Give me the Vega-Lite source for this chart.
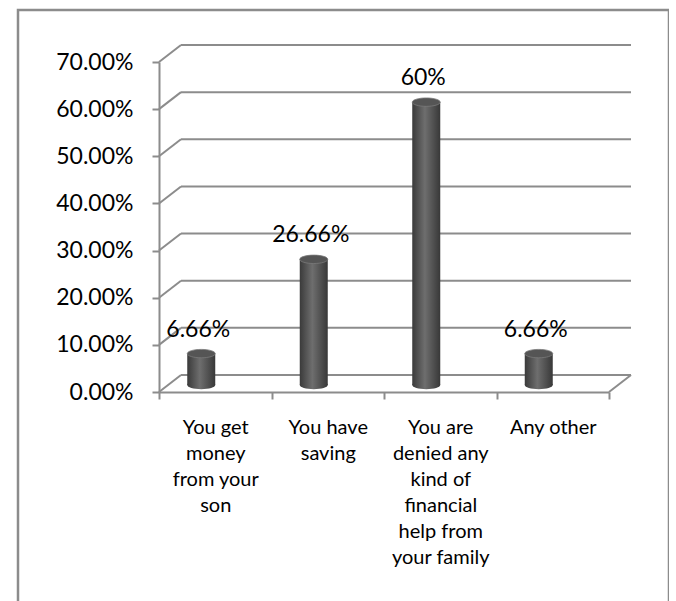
{
  "$schema": "https://vega.github.io/schema/vega-lite/v6.json",
  "width": 651,
  "height": 600,
  "autosize": {"type": "none"},
  "padding": {"left": 18, "top": 10, "right": 0, "bottom": 0},
  "background": "white",
  "config": {"view": {"stroke": "#8c8c8c", "strokeWidth": 2.5}, "font": "Lato"},
  "datasets": {
    "answers": [
      {"answer": "You get money from your son", "pct": 6.66, "label": "6.66%"},
      {"answer": "You have saving", "pct": 26.66, "label": "26.66%"},
      {"answer": "You are denied any kind of financial help from your family", "pct": 60, "label": "60%"},
      {"answer": "Any other", "pct": 6.66, "label": "6.66%"}
    ],
    "ticks": [{"v": 0}, {"v": 10}, {"v": 20}, {"v": 30}, {"v": 40}, {"v": 50}, {"v": 60}, {"v": 70}]
  },
  "layer": [
    {
      "data": {"name": "ticks"},
      "layer": [
        {
          "mark": {"type": "rule", "color": "#8c8c8c", "strokeWidth": 2},
          "encoding": {
            "x": {"datum": 0, "type": "quantitative", "scale": {"domain": [0, 1], "range": [163, 613]}, "axis": null},
            "x2": {"datum": 1},
            "y": {"field": "v", "type": "quantitative", "scale": {"domain": [0, 70], "range": [365, 35]}, "axis": null}
          }
        },
        {
          "mark": {"type": "rule", "color": "#8c8c8c", "strokeWidth": 2, "x2Offset": -22, "y2Offset": 17},
          "encoding": {
            "x": {"datum": 0, "type": "quantitative", "scale": {"domain": [0, 1], "range": [163, 613]}, "axis": null},
            "x2": {"datum": 0},
            "y": {"field": "v", "type": "quantitative", "scale": {"domain": [0, 70], "range": [365, 35]}, "axis": null},
            "y2": {"field": "v"}
          }
        },
        {
          "data": {"values": [{"v": 0}]},
          "mark": {"type": "rule", "color": "#8c8c8c", "strokeWidth": 2, "x2Offset": -22, "y2Offset": 17},
          "encoding": {
            "x": {"datum": 1, "type": "quantitative", "scale": {"domain": [0, 1], "range": [163, 613]}, "axis": null},
            "x2": {"datum": 1},
            "y": {"field": "v", "type": "quantitative", "scale": {"domain": [0, 70], "range": [365, 35]}, "axis": null},
            "y2": {"field": "v"}
          }
        }
      ]
    },
    {
      "data": {"name": "answers"},
      "encoding": {
        "x": {
          "field": "answer",
          "type": "nominal",
          "sort": null,
          "scale": {"range": [141, 591], "paddingInner": 0, "paddingOuter": 0},
          "axis": {
            "title": null,
            "offset": -218,
            "tickBand": "extent",
            "tickSize": 7,
            "tickColor": "#8c8c8c",
            "tickWidth": 2,
            "domainColor": "#8c8c8c",
            "domainWidth": 2,
            "labelAngle": 0,
            "labelFontSize": 20,
            "labelLineHeight": 26,
            "labelColor": "black",
            "labelPadding": 18,
            "labelLimit": 300,
            "labelExpr": "datum.value == 'You get money from your son' ? ['You get','money','from your','son'] : datum.value == 'You have saving' ? ['You have','saving'] : datum.value == 'You are denied any kind of financial help from your family' ? ['You are','denied any','kind of','financial','help from','your family'] : datum.value"
          }
        }
      },
      "layer": [
        {
          "mark": {
            "type": "bar",
            "width": 28,
            "xOffset": -14,
            "yOffset": -7,
            "y2Offset": -7,
            "fill": {"gradient": "linear", "x1": 0, "x2": 1, "y1": 0, "y2": 0, "stops": [{"offset": 0, "color": "#3a3a3a"}, {"offset": 0.45, "color": "#6e6e6e"}, {"offset": 1, "color": "#383838"}]}
          },
          "encoding": {
            "y": {
              "field": "pct",
              "type": "quantitative",
              "scale": {"domain": [0, 70], "range": [382, 52]},
              "axis": {
                "title": null,
                "values": [0, 10, 20, 30, 40, 50, 60, 70],
                "labelExpr": "format(datum.value, '.2f') + '%'",
                "offset": -141,
                "grid": false,
                "domainColor": "#8c8c8c",
                "domainWidth": 2,
                "tickColor": "#8c8c8c",
                "tickWidth": 2,
                "tickSize": 7,
                "labelFontSize": 23,
                "labelColor": "black",
                "labelPadding": 19
              }
            },
            "y2": {"datum": 0}
          }
        },
        {
          "mark": {
            "type": "point",
            "shape": "M -1 0 A 1 0.3 0 1 0 1 0 A 1 0.3 0 1 0 -1 0 Z",
            "size": 784,
            "filled": true,
            "opacity": 1,
            "xOffset": -14,
            "yOffset": -7,
            "strokeWidth": 0,
            "fill": {"gradient": "linear", "x1": 0, "x2": 1, "y1": 0, "y2": 0, "stops": [{"offset": 0, "color": "#3a3a3a"}, {"offset": 0.45, "color": "#6e6e6e"}, {"offset": 1, "color": "#383838"}]}
          },
          "encoding": {
            "y": {"datum": 0, "type": "quantitative", "scale": {"domain": [0, 70], "range": [382, 52]}}
          }
        },
        {
          "mark": {
            "type": "point",
            "shape": "M -1 0 A 1 0.3 0 1 0 1 0 A 1 0.3 0 1 0 -1 0 Z",
            "size": 784,
            "filled": true,
            "opacity": 1,
            "xOffset": -14,
            "yOffset": -7,
            "fill": "#555555",
            "stroke": "#7a7a7a",
            "strokeWidth": 0.8
          },
          "encoding": {
            "y": {"field": "pct", "type": "quantitative", "scale": {"domain": [0, 70], "range": [382, 52]}}
          }
        },
        {
          "mark": {"type": "text", "fontSize": 23, "color": "black", "xOffset": -17, "yOffset": -7, "dy": -17, "baseline": "alphabetic", "align": "center"},
          "encoding": {
            "y": {"field": "pct", "type": "quantitative", "scale": {"domain": [0, 70], "range": [382, 52]}},
            "text": {"field": "label"}
          }
        }
      ]
    }
  ],
  "resolve": {"scale": {"x": "independent", "y": "independent"}}
}
